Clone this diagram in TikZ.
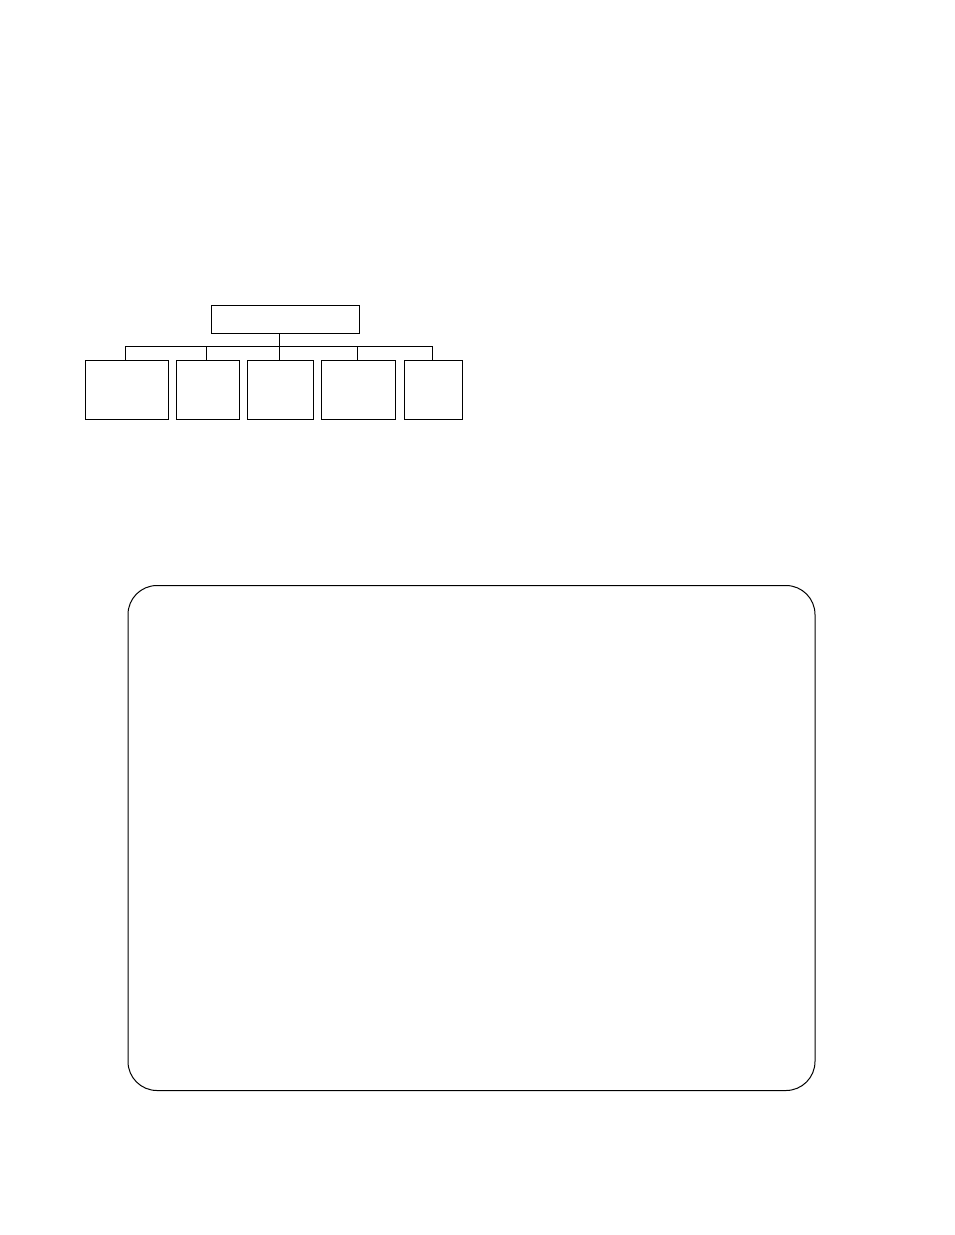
\documentclass[tikz,border=0pt]{standalone}
\usetikzlibrary{calc}
\begin{document}
\begin{tikzpicture}[x=1pt,y=-1pt,
  box/.style={draw=black, line width=1pt, rectangle, inner sep=0pt, fill=white},
  conn/.style={draw=black, line width=1pt},
  frame/.style={draw=black, line width=1pt, rectangle, rounded corners=29pt, inner sep=0pt}]
\useasboundingbox (0,0) rectangle (954,1235);
\node[box, minimum width=148pt, minimum height=28pt] (top) at (285.5,319) {};
\node[box, minimum width=82.6pt, minimum height=59pt] (c1) at (127,389.5) {};
\node[box, minimum width=63pt, minimum height=59pt] (c2) at (207.8,389.5) {};
\node[box, minimum width=66pt, minimum height=59pt] (c3) at (280.3,389.5) {};
\node[box, minimum width=74.7pt, minimum height=59pt] (c4) at (358.6,389.5) {};
\node[box, minimum width=58pt, minimum height=59pt] (c5) at (433,389.5) {};
\coordinate (bus) at (279.3,346.7);
\coordinate (s1) at ($(c1.north)+(-1.7,0)$);
\coordinate (s2) at ($(c2.north)+(-1.5,0)$);
\coordinate (s3) at ($(c3.north)+(-1,0)$);
\coordinate (s4) at ($(c4.north)+(-1.3,0)$);
\coordinate (s5) at ($(c5.north)+(-0.7,0)$);
\draw[conn] (top.south -| bus) -- (bus);
\draw[conn] (s1) -- (s1 |- bus) -- (s5 |- bus) -- (s5);
\draw[conn] (s2) -- (s2 |- bus);
\draw[conn] (s3) -- (s3 |- bus);
\draw[conn] (s4) -- (s4 |- bus);
\node[frame, minimum width=687pt, minimum height=505pt] (panel) at (471.5,838) {};
\end{tikzpicture}
\end{document}
